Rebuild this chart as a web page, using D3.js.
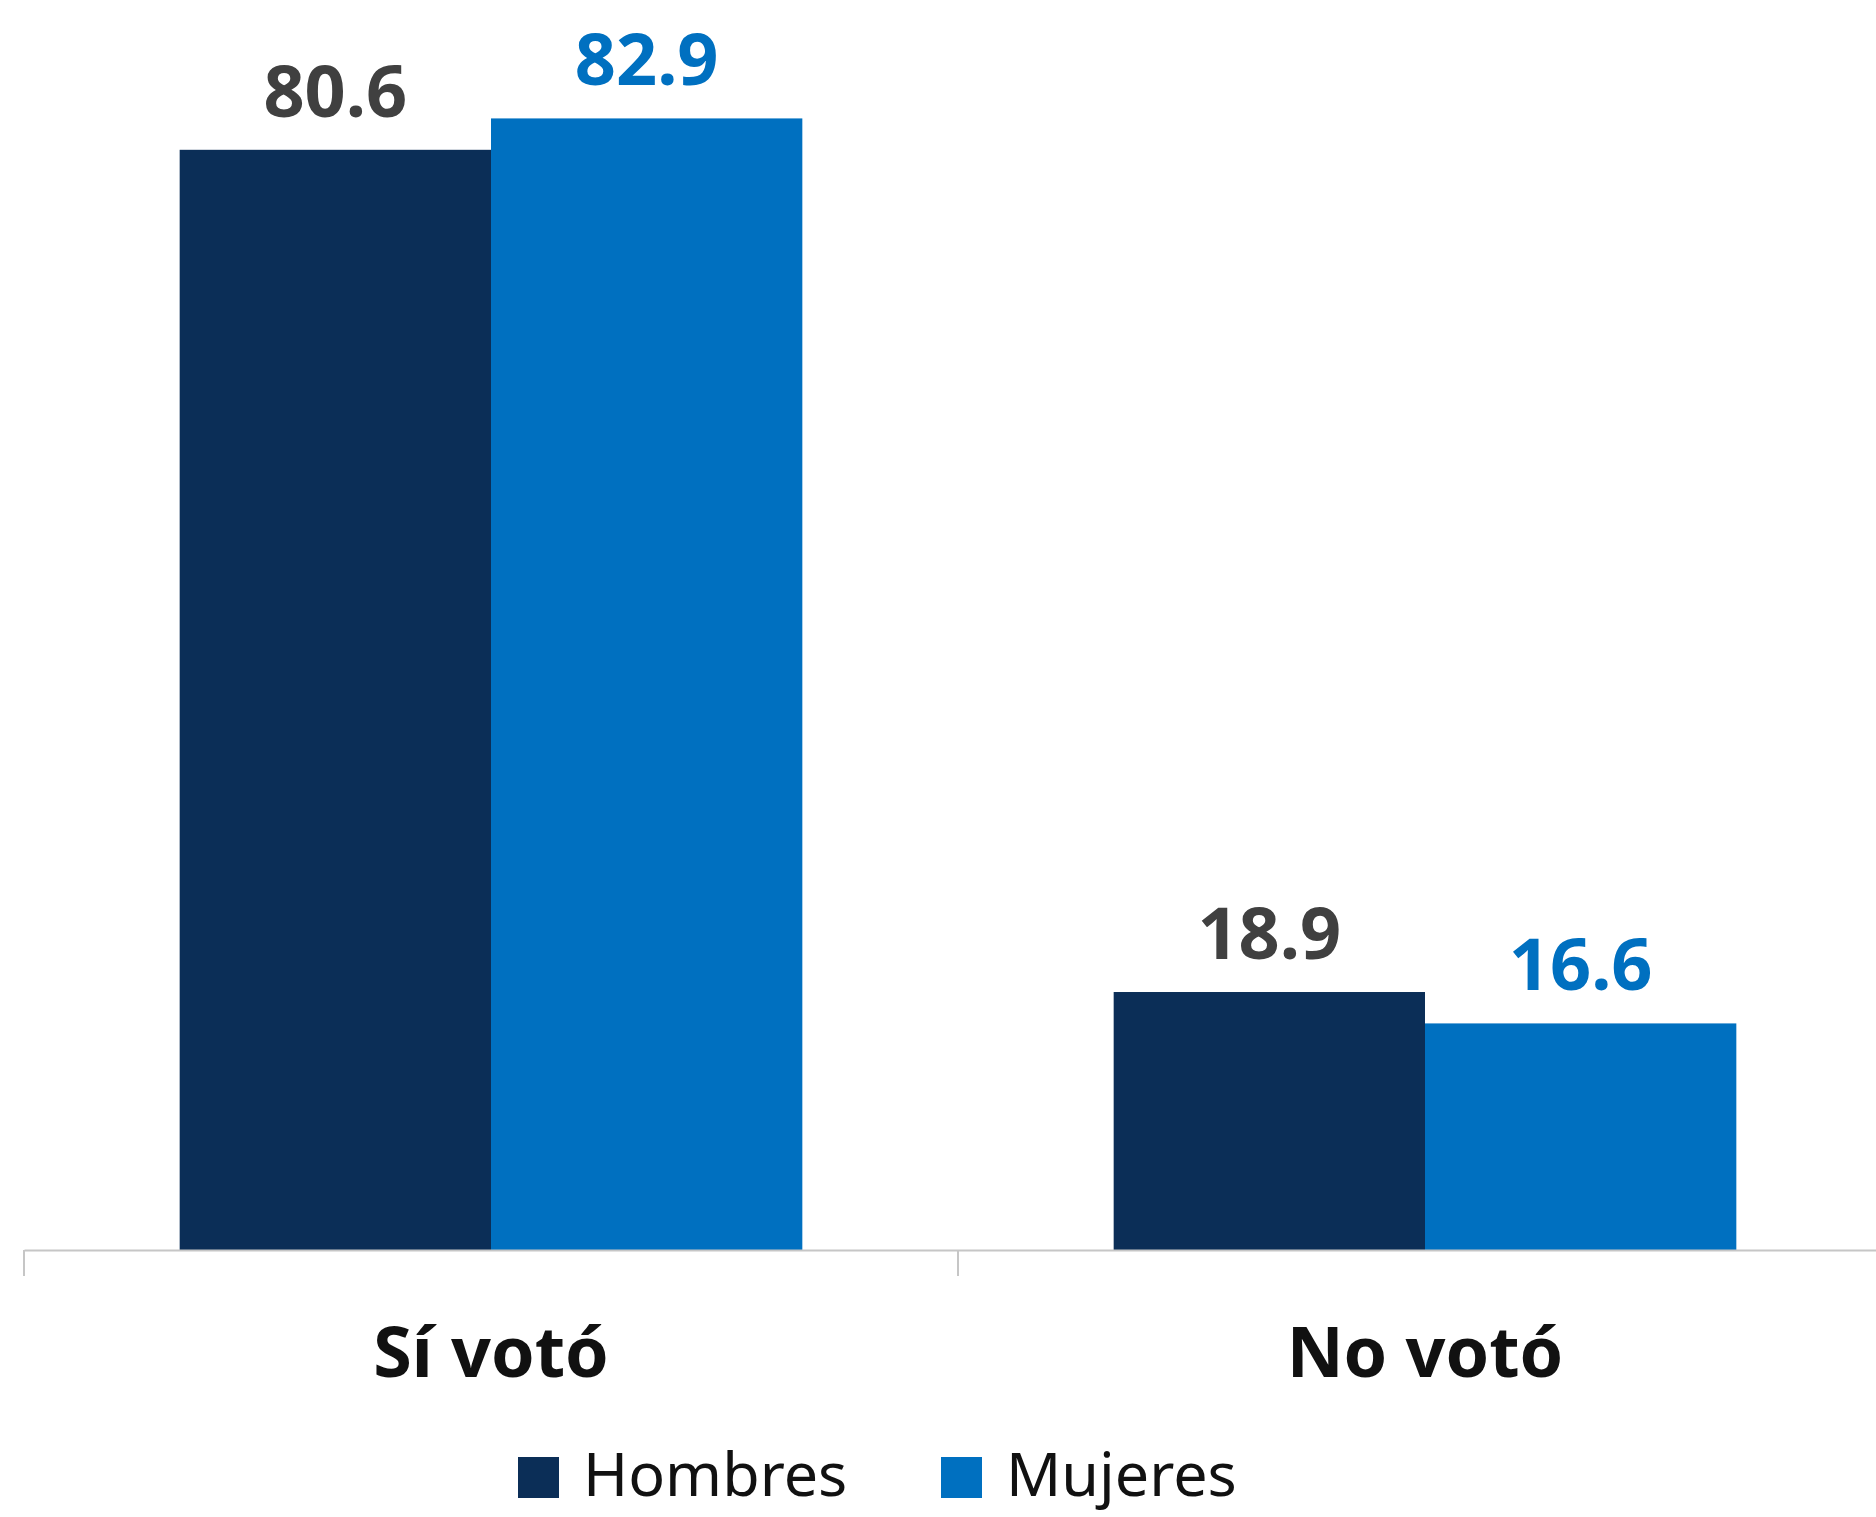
<!DOCTYPE html>
<html>
<head>
<meta charset="utf-8">
<script src="https://cdn.jsdelivr.net/npm/d3@7"></script>
<style>
  body { margin: 0; background: white; }
  svg { display: block; font-family: "Noto Sans", sans-serif; }
</style>
</head>
<body>
<div id="chart"></div>
<script>
/* CONSTANTS AND GLOBALS */
const width = 1876;
const height = 1517;

/* DATA */
const categories = ["Sí votó", "No votó"];
const series = ["Hombres", "Mujeres"];
const hombres = [80.6, 18.9];
const mujeres = [82.9, 16.6];

const colors = { Hombres: "#0b2e57", Mujeres: "#0070c0" };
const labelColors = { Hombres: "#404040", Mujeres: "#0070c0" };

const data = categories.map((c, i) => ({
  category: c,
  values: [
    { key: "Hombres", value: hombres[i] },
    { key: "Mujeres", value: mujeres[i] }
  ]
}));

/* SCALES */
const xScale = d3.scaleBand()
  .domain(categories)
  .range([24, 1892])
  .paddingInner(1 / 3)
  .paddingOuter(1 / 6);

const xSub = d3.scaleBand()
  .domain(series)
  .range([0, xScale.bandwidth()])
  .padding(0);

const yScale = d3.scaleLinear()
  .domain([0, 90])
  .range([1250, 1250 - 90 * 13.65]);

/* HTML ELEMENTS */
const svg = d3.select("#chart")
  .append("svg")
  .attr("width", width)
  .attr("height", height)
  .style("background-color", "white");

const groups = svg.selectAll(".group")
  .data(data)
  .join("g")
  .attr("class", "group")
  .attr("transform", d => `translate(${xScale(d.category)},0)`);

groups.selectAll("rect")
  .data(d => d.values)
  .join("rect")
  .attr("x", d => xSub(d.key))
  .attr("y", d => yScale(d.value))
  .attr("width", xSub.bandwidth())
  .attr("height", d => yScale(0) - yScale(d.value))
  .attr("fill", d => colors[d.key]);

groups.selectAll(".value")
  .data(d => d.values)
  .join("text")
  .attr("class", "value")
  .attr("x", d => xSub(d.key) + xSub.bandwidth() / 2)
  .attr("y", d => yScale(d.value) - 33)
  .attr("text-anchor", "middle")
  .attr("font-size", 72)
  .attr("font-weight", "bold")
  .attr("fill", d => labelColors[d.key])
  .text(d => d.value.toFixed(1));

// x axis
const xAxis = d3.axisBottom(xScale).tickSize(0).tickFormat("");
const axisG = svg.append("g")
  .attr("transform", `translate(0,${yScale(0)})`)
  .call(xAxis);
axisG.select(".domain").attr("stroke", "#c6c6c6").attr("stroke-width", 2);

// category separators
const step = xScale.step();
const sepX = [0, 1, 2].map(i => 24 + i * step);
axisG.selectAll(".sep")
  .data(sepX)
  .join("line")
  .attr("class", "sep")
  .attr("x1", d => d).attr("x2", d => d)
  .attr("y1", 0).attr("y2", 26)
  .attr("stroke", "#c6c6c6")
  .attr("stroke-width", 2);

svg.selectAll(".cat")
  .data(categories)
  .join("text")
  .attr("class", "cat")
  .attr("x", d => xScale(d) + xScale.bandwidth() / 2)
  .attr("y", 1377)
  .attr("text-anchor", "middle")
  .attr("font-size", 70)
  .attr("font-weight", "bold")
  .attr("fill", "#111111")
  .text(d => d);

// legend
const legendX = [518, 941];
const legend = svg.selectAll(".legend")
  .data(series)
  .join("g")
  .attr("class", "legend")
  .attr("transform", (d, i) => `translate(${legendX[i]},1457)`);

legend.append("rect")
  .attr("width", 41)
  .attr("height", 41)
  .attr("fill", d => colors[d]);

legend.append("text")
  .attr("x", 65)
  .attr("y", 39)
  .attr("font-size", 61)
  .attr("fill", "#111111")
  .text(d => d);
</script>
</body>
</html>
